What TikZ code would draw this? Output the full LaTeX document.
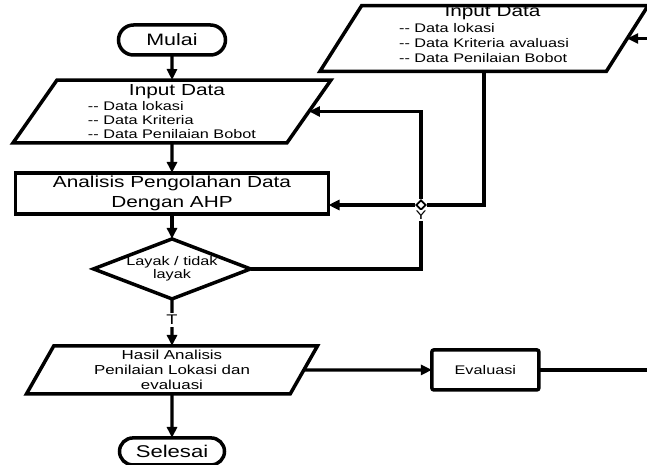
\documentclass[tikz,border=0pt]{standalone}
\usepackage{fontspec}
\setmainfont{Liberation Sans}[FakeStretch=1.3]
\usetikzlibrary{shapes.geometric, shapes.misc, arrows.meta, positioning}

\begin{document}
\begin{tikzpicture}[x=1pt, y=-1pt,
        terminal/.style={rounded rectangle, draw, line width=3.5pt, inner sep=0pt, outer sep=0pt},
        io/.style={trapezium, trapezium left angle=55, trapezium right angle=125,
            trapezium stretches body, draw, line width=3.5pt, inner sep=0pt, outer sep=0pt},
        process/.style={rectangle, draw, line width=3.5pt, inner sep=0pt, outer sep=0pt, align=center},
        decision/.style={diamond, aspect=2.6, draw, line width=3.5pt, inner sep=0pt, outer sep=0pt,
            align=center},
        line/.style={line width=3.2pt},
        arrow/.style={line, -{Triangle[length=11pt, width=10pt]}},
        tag/.style={fill=white, inner sep=2.5pt, font=\fontsize{14}{14}\selectfont}]
    \useasboundingbox (0,0) rectangle (647,465);

    \node [terminal, minimum width=107pt, minimum height=30pt,
        font=\fontsize{16.5}{18}\selectfont] (mulai) at (172,40) {Mulai};
    \node [io, minimum width=318pt, minimum height=62pt, below=25pt of mulai,
        font=\fontsize{12.5}{14}\selectfont] (input) {\begin{tabular}{@{}l@{}}
            \multicolumn{1}{@{}c@{}}{\fontsize{16}{18}\selectfont\rule{0pt}{15.7pt}\hspace{10pt}Input Data}\\[1pt]
            -{}- Data lokasi\\
            -{}- Data Kriteria\\
            -{}- Data Penilaian Bobot
        \end{tabular}};
    \node [process, minimum width=313pt, minimum height=41pt, below=30pt of input,
        font=\fontsize{16}{19.5}\selectfont] (analisis) {Analisis Pengolahan Data\\Dengan AHP};
    \node [decision, minimum width=157pt, minimum height=60pt, below=25pt of analisis,
        font=\fontsize{12.5}{11}\selectfont] (layak) {Layak / tidak\\layak};
    \node [io, minimum width=291pt, minimum height=48pt, below=47pt of layak, align=center,
        font=\fontsize{13}{14.7}\selectfont] (hasil) {Hasil Analisis\\Penilaian Lokasi dan\\evaluasi};
    \node [terminal, minimum width=105pt, minimum height=27pt, below=44pt of hasil,
        font=\fontsize{17}{18}\selectfont] (selesai) {Selesai};
    \node [process, rounded corners=2pt, minimum width=107pt, minimum height=40pt, right=128pt of hasil,
        font=\fontsize{12.5}{14}\selectfont] (evaluasi) {Evaluasi};
    \node [io, trapezium left angle=57.6, trapezium right angle=122.4, minimum width=328pt,
        minimum height=63pt, font=\fontsize{12.5}{15}\selectfont] (inputeval) at (484,38.5) {\begin{tabular}{@{}l@{}}
            \multicolumn{1}{@{}c@{}}{\fontsize{16}{18}\selectfont\hspace{17pt}Input Data}\\[1pt]
            -{}- Data lokasi\\
            -{}- Data Kriteria avaluasi\\
            -{}- Data Penilaian Bobot\rule[-8.5pt]{0pt}{0pt}
        \end{tabular}};
    \node [diamond, draw, fill=white, line width=1.8pt, minimum size=10pt, inner sep=0pt] (simpang) at (421,205) {};
    \coordinate (keluar) at ([xshift=120pt]evaluasi.east);
    \coordinate (masuk) at ([xshift=30pt]inputeval.east);

    \draw [arrow] (mulai) -- (input);
    \draw [arrow] (input) -- (analisis);
    \draw [arrow] (analisis) -- (layak);
    \draw [arrow] (layak) -- node [tag, pos=0.45] {T} (hasil);
    \draw [arrow] (hasil) -- (selesai);
    \draw [arrow] (hasil) -- (evaluasi);
    \draw [line] (evaluasi) -- (keluar);
    \draw [arrow] (masuk) -- (inputeval.east);
    \draw [line] (inputeval.south) |- (simpang);
    \draw [arrow] (simpang) -- (simpang -| analisis.east);
    \draw [arrow] (simpang) |- (input.east);
    \draw [line] (layak.east) -| node [tag, pos=0.96, inner sep=1pt, font=\fontsize{12.5}{12.5}\selectfont] {Y} (simpang);
\end{tikzpicture}
\end{document}
